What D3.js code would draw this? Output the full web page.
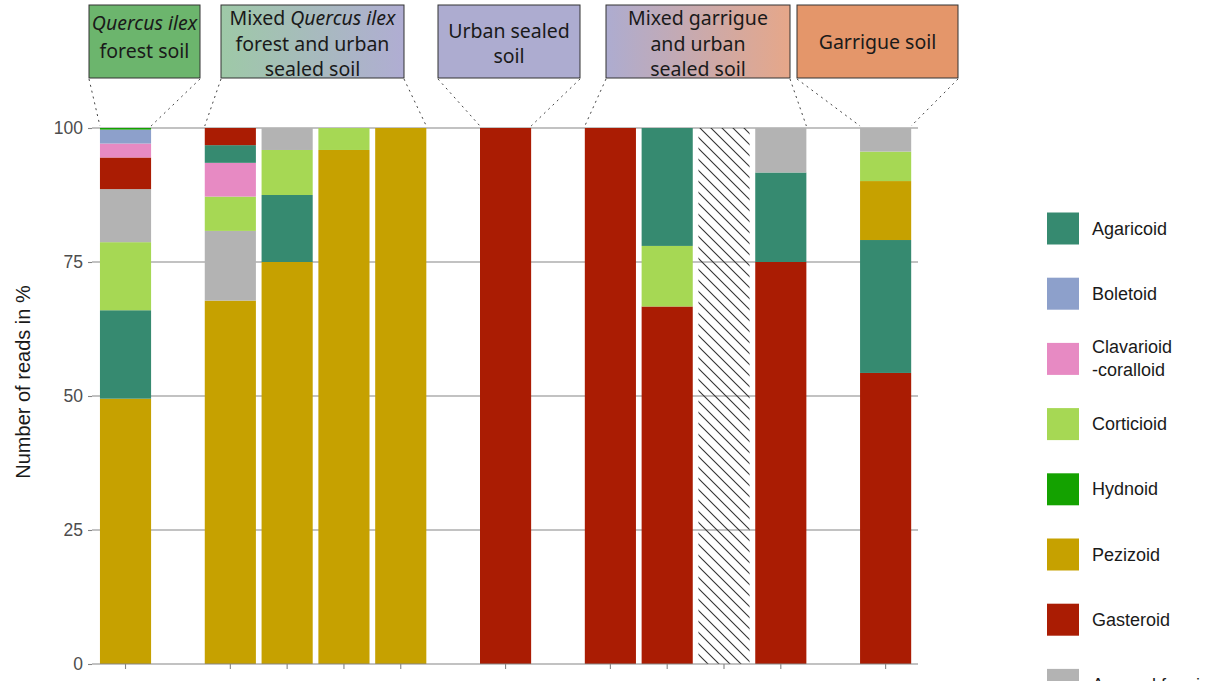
<!DOCTYPE html>
<html><head><meta charset="utf-8">
<script src="https://cdn.jsdelivr.net/npm/d3@7"></script>
<style>body{margin:0;background:#fff} svg{display:block}</style>
</head><body><svg id="chart" width="1208" height="681"></svg>
<script>
// ---------- data ----------
const categories = ["Agaricoid","Boletoid","Clavarioid-coralloid","Corticioid","Hydnoid","Pezizoid","Gasteroid","Asexual fungi"];
const legendLabels = [["Agaricoid"],["Boletoid"],["Clavarioid","-coralloid"],["Corticioid"],["Hydnoid"],["Pezizoid"],["Gasteroid"],["Asexual fungi"]];
const colors = ["#368a70","#8da0cb","#e78ac3","#a6d854","#14a200","#c6a100","#aa1c03","#b3b3b3"];
const samples = ["S1","S2","S3","S4","S5","S6","S7","S8","S9","S10","S11"];
const sampleGroup = [0,1,1,1,1,2,3,3,3,3,4];
// values (% of reads) per sample
const agaricoid  = [16.5, 3.3, 12.5, 0, 0, 0, 0, 22.0, 0, 16.7, 24.8];
const boletoid   = [2.6, 0, 0, 0, 0, 0, 0, 0, 0, 0, 0];
const clavarioid = [2.6, 6.3, 0, 0, 0, 0, 0, 0, 0, 0, 0];
const corticioid = [12.7, 6.4, 8.4, 4.1, 0, 0, 0, 11.3, 0, 0, 5.5];
const hydnoid    = [0.3, 0, 0, 0, 0, 0, 0, 0, 0, 0, 0];
const pezizoid   = [49.5, 67.8, 75.0, 95.9, 100, 0, 0, 0, 0, 0, 11.0];
const gasteroid  = [5.9, 3.2, 0, 0, 0, 100, 100, 66.7, 0, 75.0, 54.3];
const asexual    = [9.9, 13.0, 4.1, 0, 0, 0, 0, 0, 0, 8.3, 4.4];
const noData     = [0, 0, 0, 0, 0, 0, 0, 0, 100, 0, 0];
// stacking order in each bar, bottom to top (category index, -1 = no data)
const stackOrder = [
  [5,0,3,7,6,2,1,4],
  [5,7,3,2,0,6],
  [5,0,3,7],
  [5,3],
  [5],
  [6],
  [6],
  [6,3,0],
  [-1],
  [6,0,7],
  [6,0,5,3,7]
];
const yTicks = [0,25,50,75,100];
const groupLines = [
  [[["Quercus ilex",true]],[["forest soil",false]]],
  [[["Mixed ",false],["Quercus ilex",true]],[["forest and urban",false]],[["sealed soil",false]]],
  [[["Urban sealed",false]],[["soil",false]]],
  [[["Mixed garrigue",false]],[["and urban",false]],[["sealed soil",false]]],
  [[["Garrigue soil",false]]]
];
const groupFills = [["#6cb56d","#6cb56d"],["#9ec9a7","#b0add3"],["#adacd0","#adacd0"],["#adacd0","#e6a789"],["#e4966a","#e4966a"]];
const yTitle = "Number of reads in %";

const seriesValues = [agaricoid,boletoid,clavarioid,corticioid,hydnoid,pezizoid,gasteroid,asexual];

// ---------- layout ----------
const plot = {left: 92, right: 918, top: 128, bottom: 664};
const groupGap = 0.845;
const barPos = samples.map((s,i)=> i + sampleGroup[i]*groupGap);
const x = d3.scaleLinear().domain([-0.59, 10 + 4*groupGap + 0.57]).range([plot.left, plot.right]);
const barW = 0.9;
const y = d3.scaleLinear().domain([0,100]).range([plot.bottom, plot.top]);

const svg = d3.select("#chart");
const defs = svg.append("defs");
const pat = defs.append("pattern").attr("id","hatch").attr("patternUnits","userSpaceOnUse")
  .attr("width",11).attr("height",11);
pat.append("path").attr("d","M-1,-1 L12,12 M-1,10 L1,12 M10,-1 L12,1")
  .attr("stroke","#333").attr("stroke-width",1.1);

groupFills.forEach((f,i)=>{
  const g = defs.append("linearGradient").attr("id","gf"+i).attr("x1","0%").attr("x2","100%");
  g.append("stop").attr("offset","0%").attr("stop-color",f[0]);
  g.append("stop").attr("offset","100%").attr("stop-color",f[1]);
});

// gridlines
svg.append("g").selectAll("line").data(yTicks.filter(t=>t>0)).join("line")
  .attr("x1",plot.left).attr("x2",plot.right)
  .attr("y1",d=>y(d)).attr("y2",d=>y(d))
  .attr("stroke","#858585").attr("stroke-width",1.1);

// bars
const segs = [];
samples.forEach((s,i)=>{
  let base = 0;
  stackOrder[i].forEach(c=>{
    const v = c < 0 ? noData[i] : seriesValues[c][i];
    segs.push({i, c, y0: base, y1: base+v});
    base += v;
  });
});
svg.append("g").selectAll("rect").data(segs).join("rect")
  .attr("x", d=>x(barPos[d.i]-barW/2))
  .attr("width", d=>x(barW)-x(0))
  .attr("y", d=>y(d.y1))
  .attr("height", d=>y(d.y0)-y(d.y1))
  .attr("fill", d=> d.c<0 ? "url(#hatch)" : colors[d.c]);

// y axis
const yAxis = d3.axisLeft(y).tickValues(yTicks).tickSize(4).tickPadding(5);
const ya = svg.append("g").attr("transform",`translate(${plot.left},0)`).call(yAxis);
ya.select(".domain").remove();
ya.selectAll(".tick line").attr("stroke","#858585").attr("stroke-width",1.1);
ya.selectAll(".tick text").attr("fill","#4d4d4d").style("font-family","Liberation Sans, Arial, sans-serif").style("font-size","17.5px");

// x axis
const xa = svg.append("g").attr("transform",`translate(0,${plot.bottom})`);
xa.append("line").attr("x1",plot.left).attr("x2",plot.right).attr("stroke","#858585").attr("stroke-width",1.1);
xa.selectAll("line.t").data(barPos).join("line").attr("class","t")
  .attr("x1",d=>x(d)).attr("x2",d=>x(d)).attr("y1",0).attr("y2",5)
  .attr("stroke","#858585").attr("stroke-width",1.1);

// y title
svg.append("text").attr("transform",`translate(30,382) rotate(-90)`)
  .attr("text-anchor","middle").attr("fill","#1a1a1a")
  .style("font-family","Liberation Sans, Arial, sans-serif").style("font-size","20px")
  .text(yTitle);

// group header boxes
const boxes = [[89,200],[221,404],[438,580],[606,790],[797,958]];
const boxTextCenter = [36, 42.5, 42.5, 42.5, 41];
const boxLineH = [28, 25.5, 25.5, 25.5, 25.5];
const boxTop = 5, boxBot = 78;
d3.range(5).forEach(gi=>{
  const [bx0,bx1] = boxes[gi];
  const members = barPos.filter((p,i)=>sampleGroup[i]===gi);
  const gx0 = x(d3.min(members)-barW/2), gx1 = x(d3.max(members)+barW/2);
  svg.append("rect").attr("x",bx0).attr("y",boxTop).attr("width",bx1-bx0).attr("height",boxBot-boxTop)
    .attr("fill",`url(#gf${gi})`).attr("stroke","#333").attr("stroke-width",1);
  const lines = groupLines[gi];
  const lh = boxLineH[gi], cy = boxTextCenter[gi];
  lines.forEach((ln,k)=>{
    const t = svg.append("text").attr("x",(bx0+bx1)/2).attr("y", cy + (k-(lines.length-1)/2)*lh)
      .attr("text-anchor","middle").attr("dominant-baseline","central").attr("fill","#1a1a1a")
      .style("font-family","Noto Sans, Open Sans, sans-serif").style("font-size","19.5px");
    ln.forEach(p=>t.append("tspan").style("font-style",p[1]?"italic":"normal").text(p[0]));
  });
  [[bx0,gx0],[bx1,gx1]].forEach(([a,b])=>{
    svg.append("line").attr("x1",a).attr("y1",boxBot+1).attr("x2",b).attr("y2",y(100)-2)
      .attr("stroke","#444").attr("stroke-width",1).attr("stroke-dasharray","2,4");
  });
});

// legend
const lg = svg.append("g");
categories.forEach((c,i)=>{
  const cy = 228.5 + i*65.2;
  lg.append("rect").attr("x",1047).attr("y",cy-16).attr("width",32).attr("height",32).attr("fill",colors[i]);
  const lines = legendLabels[i];
  lines.forEach((t,k)=>{
    lg.append("text").attr("x",1092).attr("y",cy + (k-(lines.length-1)/2)*23)
      .attr("dominant-baseline","central").attr("fill","#1a1a1a")
      .style("font-family","Liberation Sans, Arial, sans-serif").style("font-size","18px")
      .text(t);
  });
});
</script>
</body></html>
